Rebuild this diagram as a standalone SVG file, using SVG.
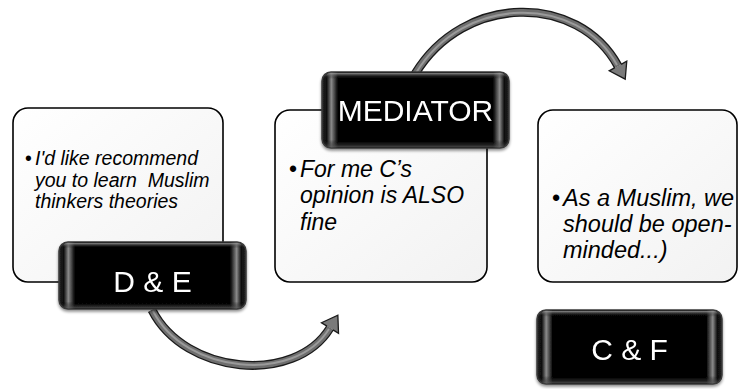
<svg xmlns="http://www.w3.org/2000/svg" width="738" height="389" viewBox="0 0 738 389">
  <defs>
    <linearGradient id="cardFill" x1="0" y1="0" x2="1" y2="1">
      <stop offset="0" stop-color="#ffffff"/>
      <stop offset="1" stop-color="#f2f2f2"/>
    </linearGradient>
    <linearGradient id="keyH" x1="0" y1="0" x2="1" y2="0">
      <stop offset="0" stop-color="#2a2a2a"/>
      <stop offset="0.025" stop-color="#0a0a0a"/>
      <stop offset="0.05" stop-color="#8a8a8a"/>
      <stop offset="0.085" stop-color="#000"/>
      <stop offset="0.915" stop-color="#000"/>
      <stop offset="0.95" stop-color="#8a8a8a"/>
      <stop offset="0.975" stop-color="#0a0a0a"/>
      <stop offset="1" stop-color="#2a2a2a"/>
    </linearGradient>
    <linearGradient id="keyV" x1="0" y1="0" x2="0" y2="1">
      <stop offset="0" stop-color="#9a9a9a" stop-opacity="0.9"/>
      <stop offset="0.08" stop-color="#000" stop-opacity="0"/>
      <stop offset="0.9" stop-color="#000" stop-opacity="0"/>
      <stop offset="1" stop-color="#555" stop-opacity="0.8"/>
    </linearGradient>
    <filter id="shadow" x="-10%" y="-10%" width="120%" height="130%">
      <feGaussianBlur in="SourceAlpha" stdDeviation="1.5"/>
      <feOffset dx="0" dy="2" result="b"/>
      <feComponentTransfer><feFuncA type="linear" slope="0.45"/></feComponentTransfer>
      <feMerge><feMergeNode/><feMergeNode in="SourceGraphic"/></feMerge>
    </filter>
    <marker id="head" markerUnits="userSpaceOnUse" markerWidth="40" markerHeight="40" refX="0" refY="0" orient="auto" overflow="visible">
      <path d="M0,-3.5 L0,-10 L15,0 L0,10 L0,3.5" fill="#7a7a7a" stroke="#1a1a1a" stroke-width="1.3" stroke-linejoin="miter"/>
    </marker>
    <style>
      .card { fill: url(#cardFill); stroke: #000; stroke-width: 1.6; }
      .key { fill: url(#keyH); stroke: #3a3a3a; stroke-width: 1.5; }
      .keyTop { fill: url(#keyV); }
      .body { font-family: "Liberation Sans", Arial, sans-serif; font-style: italic; fill: #000; }
      .bullet { font-family: "Liberation Sans", Arial, sans-serif; fill: #000; }
      .label { font-family: "Liberation Sans", Arial, sans-serif; font-size: 30px; fill: #fff; text-anchor: middle; }
      .arrowOut { fill: none; stroke: #1a1a1a; stroke-width: 9; }
      .arrowMid { fill: none; stroke: #6e6e6e; stroke-width: 6.4; }
      .arrowHi { fill: none; stroke: #9a9a9a; stroke-width: 2; }
    </style>
  </defs>

  <g id="connectors">
    <g id="arrow-top">
      <path class="arrowOut" d="M415,74 C464,-7 578,-7 618,66" marker-end="url(#head)"/>
      <path class="arrowMid" d="M415,74 C464,-7 578,-7 618,66"/>
      <path class="arrowHi" d="M416,73 C464,-6 578,-6 617,65"/>
    </g>
    <g id="arrow-bottom">
      <path class="arrowOut" d="M152,310 C185,375 295,385 330,328" marker-end="url(#head)"/>
      <path class="arrowMid" d="M152,310 C185,375 295,385 330,328"/>
      <path class="arrowHi" d="M153,311 C185,374 295,384 329,329"/>
    </g>
  </g>

  <g id="card-de">
    <rect class="card" x="13" y="108" width="210" height="174" rx="15"/>
    <text class="bullet" x="25" y="165" font-size="19.5">•</text>
    <text class="body" font-size="19.5" xml:space="preserve"><tspan x="35" y="165">I'd like recommend</tspan><tspan x="35" y="187">you to learn  Muslim</tspan><tspan x="35" y="208">thinkers theories</tspan></text>
  </g>

  <g id="card-mediator">
    <rect class="card" x="275" y="110" width="212" height="172" rx="15"/>
    <text class="bullet" x="289" y="177" font-size="23">•</text>
    <text class="body" font-size="23"><tspan x="300" y="177">For me C’s</tspan><tspan x="300" y="203">opinion is ALSO</tspan><tspan x="300" y="230">fine</tspan></text>
  </g>

  <g id="card-cf">
    <rect class="card" x="538" y="110" width="199" height="172" rx="15"/>
    <text class="bullet" x="552" y="206" font-size="23.5">•</text>
    <text class="body" font-size="23.5"><tspan x="563" y="206">As a Muslim, we</tspan><tspan x="563" y="232">should be open-</tspan><tspan x="563" y="258">minded...)</tspan></text>
  </g>

  <g id="key-de" filter="url(#shadow)">
    <rect class="key" x="59" y="242" width="187" height="67" rx="9"/>
    <rect class="keyTop" x="60" y="243" width="185" height="65" rx="8"/>
    <text class="label" x="152.5" y="292">D &amp; E</text>
  </g>

  <g id="key-mediator" filter="url(#shadow)">
    <rect class="key" x="322" y="72" width="187" height="76" rx="9"/>
    <rect class="keyTop" x="323" y="73" width="185" height="74" rx="8"/>
    <text class="label" x="415.5" y="121">MEDIATOR</text>
  </g>

  <g id="key-cf" filter="url(#shadow)">
    <rect class="key" x="537" y="310" width="185" height="74" rx="9"/>
    <rect class="keyTop" x="538" y="311" width="183" height="72" rx="8"/>
    <text class="label" x="629.5" y="360">C &amp; F</text>
  </g>
</svg>
